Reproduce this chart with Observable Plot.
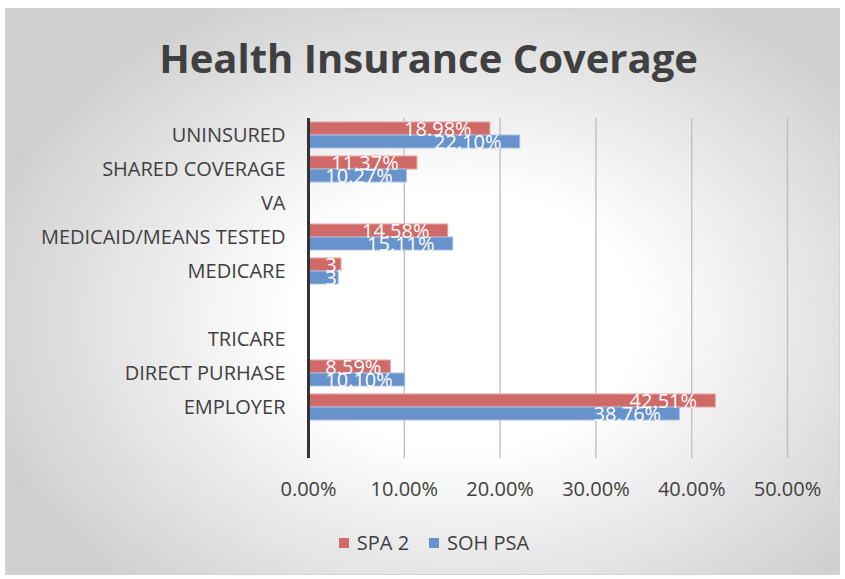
<!DOCTYPE html>
<html>
<head>
<meta charset="utf-8">
<script src="https://cdn.jsdelivr.net/npm/d3@7"></script>
<script src="https://cdn.jsdelivr.net/npm/@observablehq/plot@0.6"></script>
<style>
  html, body { margin: 0; padding: 0; background: #fff; width: 845px; height: 579px; overflow: hidden; }
  #frame {
    position: absolute; left: 5px; top: 8px; width: 833px; height: 565px;
    border: 1px solid #d4d4d4;
    background: radial-gradient(ellipse 60% 65% at 55% 55%, #ffffff 0%, #ffffff 35%, #cfcfcf 100%);
  }
  #title {
    position: absolute; left: 0; top: 30px; width: 857px; text-align: center;
    font-family: "Open Sans", sans-serif; font-weight: 700; font-size: 40px; color: #404040;
    letter-spacing: 0px;
  }
  #chart { position: absolute; left: 0; top: 100px; }
  #legend {
    position: absolute; left: 0; top: 529px; width: 868px; text-align: center;
    font-family: "Open Sans", sans-serif; font-size: 20px; color: #404040;
  }
  #legend span.item { display: inline-block; margin: 0 10px; }
  #legend span.sw { display: inline-block; width: 10px; height: 10px; margin-right: 8px; vertical-align: 2px; }
</style>
</head>
<body>
<div id="frame"></div>
<div id="title">Health Insurance Coverage</div>
<div id="chart"></div>
<div id="legend"></div>
<script>
const categories = ["UNINSURED", "SHARED COVERAGE", "VA", "MEDICAID/MEANS TESTED", "MEDICARE", " ", "TRICARE", "DIRECT PURHASE", "EMPLOYER", ""];
const spa2 =   [18.98, 11.37, 0, 14.58, 3.44, 0, 0, 8.59, 42.51, 0];
const sohPsa = [22.10, 10.27, 0, 15.11, 3.15, 0, 0, 10.10, 38.76, 0];
const seriesNames = ["SPA 2", "SOH PSA"];
const seriesColors = ["#cf6a68", "#6892cb"];
const xTicks = [0, 10, 20, 30, 40, 50];

const rows = categories.map((c, i) => ({cat: c, spa: spa2[i], soh: sohPsa[i]}));
const fmt = v => v.toFixed(2) + "%";
const labelX = v => Math.max(v - 9, 1.75);

const chart = Plot.plot({
  width: 845,
  height: 420,
  marginLeft: 308,
  marginRight: 58,
  marginTop: 18,
  marginBottom: 62,
  style: {background: "transparent", fontFamily: "Open Sans, sans-serif", color: "#404040"},
  x: {domain: [0, 50], ticks: xTicks, tickFormat: fmt, label: null},
  y: {domain: categories, paddingInner: 0.235, paddingOuter: 0.1175, label: null},
  marks: [
    Plot.gridX(xTicks.slice(1), {stroke: "#bdbdbd", strokeOpacity: 1, strokeWidth: 1.3}),
    Plot.barX(rows.filter(d => d.spa > 0), {x: "spa", y: "cat", fill: seriesColors[0], stroke: "#e3a19f", strokeWidth: 1, insetBottom: 13}),
    Plot.barX(rows.filter(d => d.soh > 0), {x: "soh", y: "cat", fill: seriesColors[1], stroke: "#a3bfe3", strokeWidth: 1, insetTop: 13}),
    Plot.text(rows.filter(d => d.spa > 0), {x: d => labelX(d.spa), y: "cat", text: d => fmt(d.spa), textAnchor: "start", dy: -6, fill: "white", fontSize: 20, fontWeight: 500}),
    Plot.text(rows.filter(d => d.soh > 0), {x: d => labelX(d.soh), y: "cat", text: d => fmt(d.soh), textAnchor: "start", dy: 7, fill: "white", fontSize: 20, fontWeight: 500}),
    Plot.ruleX([0], {stroke: "#333333", strokeWidth: 3}),
    Plot.axisX({ticks: xTicks, tickFormat: fmt, tickSize: 0, tickPadding: 23, fontSize: 20, fill: "#404040", label: null}),
    Plot.axisY({tickSize: 0, tickPadding: 23, fontSize: 20, fill: "#404040", label: null})
  ]
});
document.getElementById("chart").appendChild(chart);

const legend = document.getElementById("legend");
seriesNames.forEach((n, i) => {
  const it = document.createElement("span");
  it.className = "item";
  const sw = document.createElement("span");
  sw.className = "sw";
  sw.style.background = seriesColors[i];
  it.appendChild(sw);
  it.appendChild(document.createTextNode(n));
  legend.appendChild(it);
});
</script>
</body>
</html>
